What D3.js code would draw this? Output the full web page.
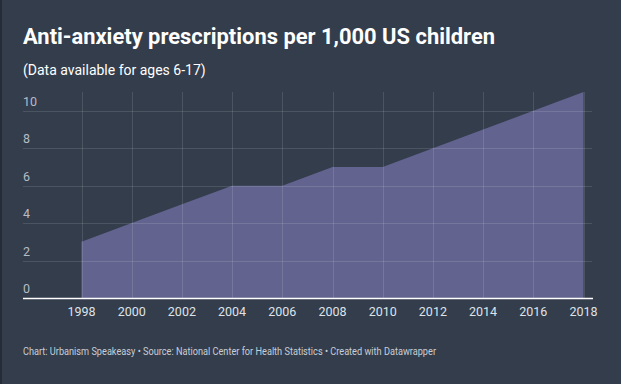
<!DOCTYPE html>
<html><head><meta charset="utf-8">
<script src="https://cdn.jsdelivr.net/npm/d3@7"></script>
<style>
html,body{margin:0;padding:0;background:#333d4c;}
svg{display:block;font-family:Roboto,"Noto Sans",sans-serif;}
</style></head>
<body><svg id="c" width="621" height="384"></svg>
<script>
const years = [1998,2000,2002,2004,2006,2008,2010,2012,2014,2016,2018];
const values = [3,4,5,6,6,7,7,8,9,10,11];
const yTicks = [0,2,4,6,8,10];
const xTicks = [1998,2000,2002,2004,2006,2008,2010,2012,2014,2016,2018];

const svg = d3.select("#c");
svg.append("rect").attr("width",621).attr("height",384).attr("fill","#333d4c");
svg.append("rect").attr("width",2).attr("height",384).attr("fill","#252c38");

svg.append("text").attr("x",23).attr("y",44).attr("fill","#ffffff")
  .attr("font-size",22).attr("font-weight",700).attr("textLength",472).attr("lengthAdjust","spacingAndGlyphs")
  .text("Anti-anxiety prescriptions per 1,000 US children");
svg.append("text").attr("x",23).attr("y",75).attr("fill","#ffffff")
  .attr("font-size",14).text("(Data available for ages 6-17)");
svg.append("text").attr("x",23).attr("y",355).attr("fill","#c9ced6")
  .attr("font-size",10.5).attr("textLength",413).attr("lengthAdjust","spacingAndGlyphs")
  .text("Chart: Urbanism Speakeasy • Source: National Center for Health Statistics • Created with Datawrapper");

const x = d3.scaleLinear().domain([1998,2018]).range([81.5,583.5]);
const y = d3.scaleLinear().domain([0,11]).range([298,92]);

const area = d3.area().x((d,i)=>x(years[i])).y0(y(0)).y1(d=>y(d));
svg.append("path").datum(values).attr("d",area).attr("fill","#62648f");

svg.append("g").selectAll("line").data(yTicks.filter(t=>t>0)).join("line")
  .attr("x1",23).attr("x2",592).attr("y1",d=>Math.round(y(d))+0.5).attr("y2",d=>Math.round(y(d))+0.5)
  .attr("stroke","#ffffff").attr("stroke-opacity",0.12);
svg.append("g").selectAll("line").data(xTicks).join("line")
  .attr("x1",d=>Math.round(x(d))+0.5).attr("x2",d=>Math.round(x(d))+0.5).attr("y1",92).attr("y2",298)
  .attr("stroke","#ffffff").attr("stroke-opacity",0.12);

svg.append("g").selectAll("text").data(yTicks).join("text")
  .attr("x",23).attr("y",d=>y(d)-5).attr("fill","#b6bcc6").attr("font-size",12.5).text(d=>d);

svg.append("line").attr("x1",23).attr("x2",593).attr("y1",298.5).attr("y2",298.5)
  .attr("stroke","#ffffff").attr("stroke-width",1.5);

svg.append("g").selectAll("text").data(xTicks).join("text")
  .attr("x",d=>x(d)).attr("y",316).attr("text-anchor","middle").attr("fill","#dfe3e8")
  .attr("font-size",12.5).text(d=>d);
</script></body></html>
